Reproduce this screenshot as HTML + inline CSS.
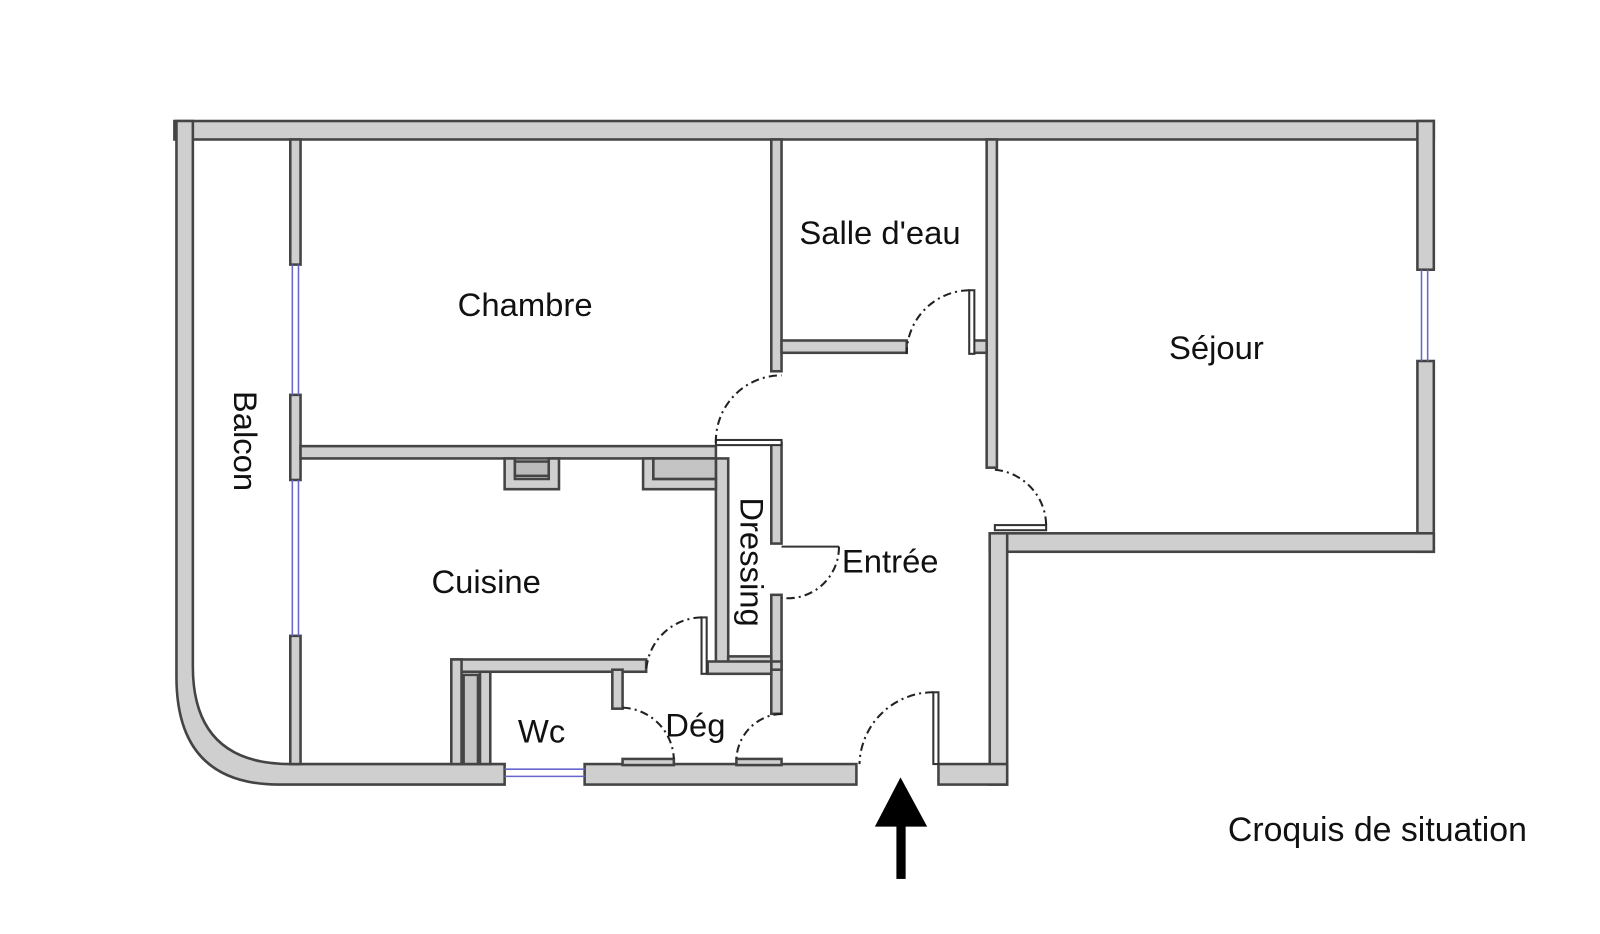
<!DOCTYPE html>
<html><head><meta charset="utf-8"><style>
html,body{margin:0;padding:0;background:#fff;width:1600px;height:934px;overflow:hidden}
svg{display:block}
text{font-family:"Liberation Sans",sans-serif;fill:#111}
</style></head><body>
<svg width="1600" height="934" viewBox="0 0 1560 910.7" xmlns="http://www.w3.org/2000/svg">
<g fill="#cfcfcf" stroke="#444" stroke-width="2.5">
<rect x="170" y="118" width="1228" height="18"/>
<rect x="1382" y="118" width="16" height="145"/>
<rect x="1382" y="352" width="16" height="186"/>
<rect x="965" y="520" width="433" height="18"/>
<rect x="965" y="520" width="17" height="245"/>
<rect x="915" y="745" width="67" height="20"/>
<rect x="570" y="745" width="265" height="20"/>
<path d="M172,118 L188,118 L188,650 Q188,745 283,745 L492,745 L492,765 L272,765 Q172,765 172,660 Z"/>
<rect x="283" y="136" width="10" height="122"/>
<rect x="283" y="385" width="10" height="83"/>
<rect x="283" y="620" width="10" height="125"/>
<rect x="293" y="435" width="405" height="12"/>
<rect x="752" y="136" width="10" height="226"/>
<rect x="962" y="136" width="10" height="320"/>
<rect x="762" y="332" width="122" height="12"/>
<rect x="948" y="332" width="14" height="12"/>
<rect x="752" y="432" width="10" height="98"/>
<rect x="752" y="580" width="10" height="116"/>
<rect x="752" y="645" width="10" height="8"/>
<rect x="698" y="447" width="12" height="200"/>
<rect x="710" y="640" width="42" height="12"/>
<path d="M492,447 L492,477 L545,477 L545,447 L535,447 L535,467 L502,467 L502,447 Z"/>
<rect x="502" y="450" width="33" height="14" fill="#bbb"/>
<path d="M627,447 L627,477 L698,477 L698,467 L637,467 L637,447 Z"/>
<rect x="637" y="447" width="61" height="20" fill="#c4c4c4"/>
<rect x="440" y="643" width="190" height="12"/>
<rect x="690" y="645" width="62" height="12"/>
<rect x="440" y="643" width="10" height="102"/>
<rect x="468" y="655" width="10" height="90"/>
<rect x="452" y="658" width="14" height="87" fill="#c4c4c4"/>
<rect x="597" y="653" width="10" height="38"/>
<rect x="607" y="740" width="50" height="6"/>
<rect x="718" y="740" width="44" height="6"/>
</g>
<g stroke="#6666cc" stroke-width="1.5" fill="none">
<line x1="285" y1="258" x2="285" y2="385"/><line x1="291" y1="258" x2="291" y2="385"/>
<line x1="285" y1="468" x2="285" y2="620"/><line x1="291" y1="468" x2="291" y2="620"/>
<line x1="1386" y1="263" x2="1386" y2="352"/><line x1="1392" y1="263" x2="1392" y2="352"/>
<line x1="492" y1="750" x2="570" y2="750"/><line x1="492" y1="757" x2="570" y2="757"/>
</g>
<g fill="#fff" stroke="#333" stroke-width="2">
<rect x="945" y="283" width="5" height="62"/>
<rect x="698" y="429" width="64" height="5"/>
<rect x="910" y="675" width="5" height="70"/>
<rect x="684" y="602" width="5" height="55"/>
<rect x="970" y="512" width="50" height="5"/>
<line x1="762" y1="533" x2="818" y2="533"/>
</g>
<g fill="none" stroke="#222" stroke-width="2" stroke-dasharray="8,4,2,4">
<path d="M945,283 A62,62 0 0 0 884,345"/>
<path d="M698,432 A64,64 0 0 1 762,366"/>
<path d="M910,675 A72,72 0 0 0 838,745"/>
<path d="M684,602 A55,55 0 0 0 630,655"/>
<path d="M970,458 A55,55 0 0 1 1020,512"/>
<path d="M818,533 A50,50 0 0 1 762,583"/>
<path d="M607,690 A52,52 0 0 1 657,740"/>
<path d="M762,696 A46,46 0 0 0 718,740"/>
</g>
<rect x="874" y="800" width="9" height="57" fill="#000"/>
<polygon points="878,758 853,806 904,806" fill="#000"/>
<g font-size="32">
<text x="512" y="308" text-anchor="middle">Chambre</text>
<text x="858" y="238" text-anchor="middle">Salle d'eau</text>
<text x="1186" y="350" text-anchor="middle">Séjour</text>
<text x="474" y="578" text-anchor="middle">Cuisine</text>
<text x="868" y="558" text-anchor="middle">Entrée</text>
<text x="528" y="724" text-anchor="middle">Wc</text>
<text x="678" y="718" text-anchor="middle">Dég</text>
<text transform="translate(228,430) rotate(90)" text-anchor="middle">Balcon</text>
<text transform="translate(722,548) rotate(90)" text-anchor="middle">Dressing</text>
<text x="1343" y="820" text-anchor="middle" font-size="33">Croquis de situation</text>
</g>
</svg>
</body></html>
